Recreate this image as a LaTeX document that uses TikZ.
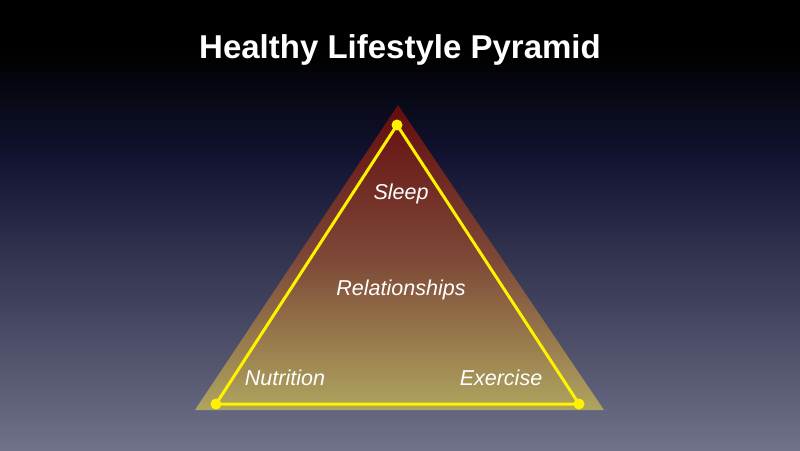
\documentclass[tikz,border=0pt]{standalone}
\usepackage{fontspec}
\setmainfont{Liberation Sans}
\begin{document}
\begin{tikzpicture}[x=1pt,y=1pt,
  lbl/.style={text=white,font=\itshape\fontsize{21.5}{24}\selectfont,inner sep=0pt},
  yline/.style={draw=yellow,line width=3pt,line join=round},
  ydot/.style={circle,fill=yellow,inner sep=0pt,minimum size=11pt}]
\definecolor{bgtop}{RGB}{0,0,0}
\definecolor{bgmid}{RGB}{18,20,50}
\definecolor{bgbot}{RGB}{112,114,138}
\definecolor{ptop}{RGB}{100,12,14}
\definecolor{pmid}{RGB}{125,72,55}
\definecolor{pbot}{RGB}{175,165,95}
\useasboundingbox (0,0) rectangle (800,450);
\fill[bgtop] (0,450) rectangle (800,400);
\shade[top color=bgtop,bottom color=bgmid] (0,400.5) rectangle (800,289.5);
\shade[top color=bgmid,bottom color=bgbot] (0,290) rectangle (800,0);
% outer pyramid
\shade[top color=ptop,bottom color=pbot,middle color=pmid] (398,345) -- (604,40) -- (195,40) -- cycle;
% title
\node[text=white,font=\bfseries\fontsize{33}{38}\selectfont] (title) at (400,400) {Healthy Lifestyle Pyramid};
% yellow triangle
\node[ydot] (t) at (397,325) {};
\node[ydot] (l) at (216,46) {};
\node[ydot] (r) at (579,46) {};
\draw[yline] (t.center) -- (r.center) -- (l.center) -- cycle;
% labels
\node[lbl] (sleep) at (401,256) {Sleep};
\node[lbl] (rel) at (401,160) {Relationships};
\node[lbl] (nut) at (285,72) {Nutrition};
\node[lbl] (ex) at (501,72) {Exercise};
\end{tikzpicture}
\end{document}
